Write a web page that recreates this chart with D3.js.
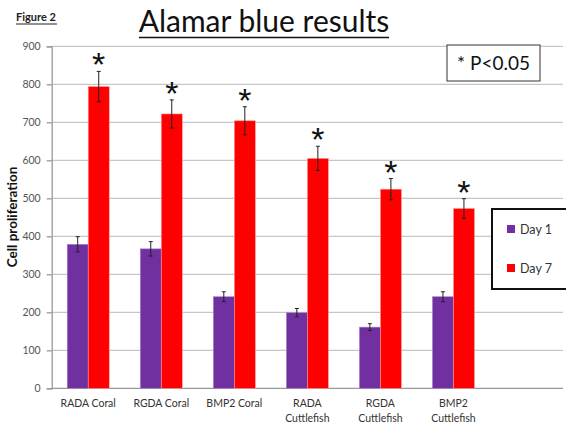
<!DOCTYPE html>
<html><head><meta charset="utf-8">
<script src="https://cdn.jsdelivr.net/npm/d3@7"></script>
<style>body{margin:0;background:#fff;} svg{display:block;font-family:Lato, "Open Sans", sans-serif;}</style>
</head><body><svg id="c" width="566" height="423"></svg>
<script>
const categories = ["RADA Coral","RGDA Coral","BMP2 Coral","RADA Cuttlefish","RGDA Cuttlefish","BMP2 Cuttlefish"];
const categoryLines = [["RADA Coral"],["RGDA Coral"],["BMP2 Coral"],["RADA","Cuttlefish"],["RGDA","Cuttlefish"],["BMP2","Cuttlefish"]];
const seriesNames = ["Day 1","Day 7"];
const day1 = [379, 367, 241, 199, 161, 241];
const day1Err = [20, 19, 13, 11, 9, 13];
const day7 = [794, 722, 704, 605, 524, 473];
const day7Err = [40, 37, 37, 32, 28, 26];
const significant = [true,true,true,true,true,true];
const yTicks = [0,100,200,300,400,500,600,700,800,900];
const colors = ["#7030A0","#FF0000"];

(function(){
const svg = d3.select("#c");
const pL = 51.7, pR = 563, pT = 46.3, pB = 388.3;
const slots = categories.concat(["__empty__"]);
const x0 = d3.scaleBand().domain(slots).range([pL, pR]).paddingInner(0).paddingOuter(0);
const x1 = d3.scaleBand().domain(seriesNames).range([0, x0.bandwidth()]).paddingInner(0).paddingOuter(0.738);
const y = d3.scaleLinear().domain([0, 900]).range([pB, pT]);

// grid
svg.append("g").selectAll("line").data(yTicks.filter(t=>t>0)).join("line")
  .attr("x1", pL).attr("x2", pR).attr("y1", d=>y(d)).attr("y2", d=>y(d))
  .attr("stroke", "#c6c6c6").attr("stroke-width", 1.3);

// y axis
const yAxis = d3.axisLeft(y).tickValues(yTicks).tickSize(5).tickPadding(6);
const ga = svg.append("g").attr("transform", `translate(${pL},0)`).call(yAxis);
ga.select(".domain").attr("stroke", "#999").attr("stroke-width", 1.3);
ga.selectAll(".tick line").attr("stroke", "#999").attr("stroke-width", 1.3);
ga.selectAll(".tick text").attr("font-size", 10.5).attr("fill", "#555").attr("font-family", "Lato, sans-serif");
// x baseline
svg.append("line").attr("x1", pL).attr("x2", pR).attr("y1", pB).attr("y2", pB)
  .attr("stroke", "#999").attr("stroke-width", 1.3);

const series = [
  {name: seriesNames[0], vals: day1, err: day1Err, color: colors[0]},
  {name: seriesNames[1], vals: day7, err: day7Err, color: colors[1]}
];
const rows = [];
series.forEach(s => s.vals.forEach((v,i) => rows.push({cat: categories[i], s: s.name, v, e: s.err[i], color: s.color, i})));

svg.append("g").selectAll("rect").data(rows).join("rect")
  .attr("x", d => x0(d.cat) + x1(d.s))
  .attr("y", d => y(d.v))
  .attr("width", x1.bandwidth())
  .attr("height", d => y(0) - y(d.v))
  .attr("fill", d => d.color)
  .attr("stroke", d => d.s === "Day 1" ? "#a98bd0" : "#ff9a9a")
  .attr("stroke-width", 0.6);

// error bars
const eg = svg.append("g").attr("stroke", "#222").attr("stroke-width", 1);
rows.forEach(d => {
  const cx = x0(d.cat) + x1(d.s) + x1.bandwidth()/2;
  eg.append("line").attr("x1", cx).attr("x2", cx).attr("y1", y(d.v + d.e)).attr("y2", y(d.v - d.e));
  eg.append("line").attr("x1", cx-2).attr("x2", cx+2).attr("y1", y(d.v + d.e)).attr("y2", y(d.v + d.e));
  eg.append("line").attr("x1", cx-2).attr("x2", cx+2).attr("y1", y(d.v - d.e)).attr("y2", y(d.v - d.e));
});

// asterisks
svg.append("g").selectAll("text").data(categories.filter((c,i)=>significant[i])).join("text")
  .attr("x", c => x0(c) + x1("Day 7") + x1.bandwidth()/2)
  .attr("y", c => { const i = categories.indexOf(c); return y(day7[i] + day7Err[i]) + 5; })
  .attr("text-anchor", "middle").attr("font-size", 34).attr("font-family", "Liberation Sans, Arial, sans-serif")
  .attr("fill", "#111").text("*");

// x labels
const xl = svg.append("g").attr("font-size", 10.5).attr("fill", "#333").attr("text-anchor", "middle");
categories.forEach((c,i) => {
  const t = xl.append("text").attr("x", x0(c) + x0.bandwidth()/2).attr("y", 407);
  categoryLines[i].forEach((ln,j) => t.append("tspan").attr("x", x0(c) + x0.bandwidth()/2).attr("dy", j ? 15 : 0).text(ln));
});

// y title
svg.append("text").attr("transform", "translate(17,217) rotate(-90)").attr("text-anchor", "middle")
  .attr("font-size", 13.5).attr("font-weight", "bold").attr("fill", "#111").text("Cell proliferation");

// title
svg.append("text").attr("x", 264).attr("y", 31.5).attr("text-anchor", "middle").attr("font-size", 30)
  .attr("fill", "#111").text("Alamar blue results");
svg.append("line").attr("x1", 139).attr("x2", 389).attr("y1", 37.5).attr("y2", 37.5).attr("stroke", "#111").attr("stroke-width", 1.5);

// Figure 2
svg.append("text").attr("x", 16).attr("y", 21).attr("font-size", 11).attr("font-weight", "bold").attr("fill", "#222").text("Figure 2");
svg.append("line").attr("x1", 16).attr("x2", 57).attr("y1", 24).attr("y2", 24).attr("stroke", "#222").attr("stroke-width", 1);

// P box
svg.append("rect").attr("x", 447).attr("y", 45).attr("width", 93).attr("height", 36).attr("fill", "#fff").attr("stroke", "#333").attr("stroke-width", 1);
svg.append("text").attr("x", 493.5).attr("y", 70).attr("text-anchor", "middle").attr("font-size", 19).attr("fill", "#111").text("* P<0.05");

// legend
svg.append("rect").attr("x", 492).attr("y", 209).attr("width", 80).attr("height", 80).attr("fill", "#fff").attr("stroke", "#111").attr("stroke-width", 2);
const lg = svg.append("g").selectAll("g").data(series).join("g").attr("transform", (d,i) => `translate(507,${229 + i*39})`);
lg.append("rect").attr("x", 0).attr("y", -4).attr("width", 8).attr("height", 8).attr("fill", d => d.color);
lg.append("text").attr("x", 13).attr("y", 4.5).attr("font-size", 12.5).attr("fill", "#333").text(d => d.name);
})();
</script></body></html>
